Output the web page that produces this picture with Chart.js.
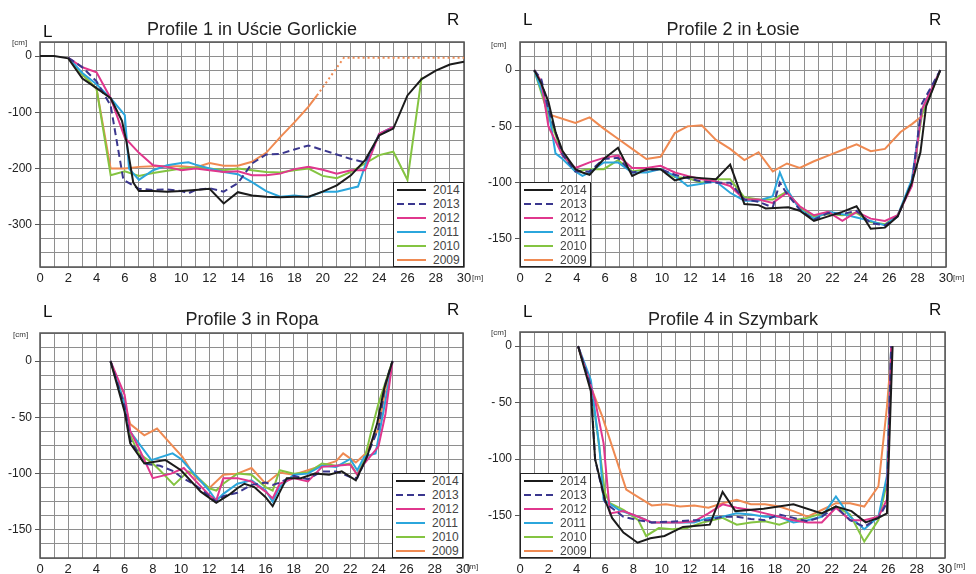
<!DOCTYPE html>
<html>
<head>
<meta charset="utf-8">
<script src="https://cdn.jsdelivr.net/npm/chart.js@4.4.1/dist/chart.umd.min.js"></script>
<style>
  body { margin: 0; width: 976px; height: 574px; background: #fff; position: relative; overflow: hidden;
         font-family: "Liberation Sans", Arial, sans-serif; }
  canvas { position: absolute; }
  .title { position: absolute; font-size: 18px; line-height: 18px; color: #222; white-space: nowrap; transform: translateX(-50%); }
  .side { position: absolute; font-size: 17px; line-height: 17px; color: #111; }
  .unit { position: absolute; font-size: 8px; line-height: 8px; color: #333; }
  .legend { position: absolute; width: 71px; height: 85px; background: #fff; border: 1px solid #222; box-sizing: border-box; }
  .legend .swatch { position: absolute; left: 3px; width: 29px; height: 2px; }
  .legend .yr { position: absolute; left: 39px; font-size: 12px; line-height: 12px; color: #444; }
</style>
</head>
<body>
<script>
// Lata pomiarów (kolejność jak w legendzie)
const YEARS = ['2014', '2013', '2012', '2011', '2010', '2009'];
const COLORS = ['#1b1b1b', '#3a368e', '#e0378d', '#2ba6dc', '#84c441', '#ef8a52'];

// Profil 1 - Uście Gorlickie  [m, cm]
const p1_2014 = [[0,0],[1,0],[2,-4],[3,-40],[4,-57],[5,-75],[5.8,-115],[6.1,-150],[6.6,-225],[7,-240],[8,-240],[9,-241],[10,-240],[11,-238],[12,-236],[13,-262],[14,-242],[15,-248],[16,-250],[17,-251],[18,-250],[19,-250],[20,-241],[21,-230],[22,-212],[23,-185],[24,-141],[25,-129],[26,-70],[27,-41],[28,-26],[29,-15],[30,-10]];
const p1_2013 = [[2,-3],[3,-20],[4,-45],[5,-88],[5.9,-220],[7,-236],[8,-238],[9,-237],[10,-240],[10.5,-244],[11,-238],[12,-235],[13,-241],[14,-226],[15,-191],[16,-175],[17,-174],[18,-166],[19,-159],[20,-167],[21,-175],[22,-183],[23,-189],[24,-141],[25,-127]];
const p1_2012 = [[2,-3],[3,-20],[4,-29],[5,-75],[6,-145],[7,-172],[8,-194],[9,-197],[10,-203],[11,-200],[12,-203],[13,-206],[14,-205],[15,-212],[16,-212],[17,-209],[18,-201],[19,-197],[20,-202],[21,-209],[22,-203],[23,-203],[24,-138],[25,-126]];
const p1_2011 = [[2,-3],[3,-30],[4,-50],[5,-75],[6,-105],[6.3,-200],[7,-220],[8,-203],[9,-194],[10,-190],[10.5,-189],[11,-193],[12,-200],[13,-206],[14,-210],[15,-224],[16,-240],[17,-250],[18,-248],[19,-251],[20,-241],[21,-241],[22,-235],[22.5,-232],[23,-195],[24,-138],[25,-126]];
const p1_2010 = [[2,-3],[3,-33],[4,-58],[5,-212],[6,-205],[7,-213],[8,-208],[9,-204],[10,-200],[11,-198],[12,-200],[13,-203],[14,-200],[15,-203],[16,-206],[17,-207],[18,-203],[19,-200],[20,-213],[21,-217],[22,-206],[23,-191],[24,-176],[25,-170],[26,-220],[27,-38]];
const p1_2009 = [[2,-3],[3,-33],[4,-58],[5,-200],[6,-200],[7,-197],[8,-196],[9,-196],[10,-196],[11,-198],[12,-190],[13,-195],[14,-195],[15,-188],[16,-172],[17,-144],[18,-118],[19,-90],[19.6,-70],[21.5,-3],[30,-3]];

// Profil 2 - Łosie
const p2_2014 = [[1,0],[1.5,-12],[2,-28],[2.5,-55],[3,-72],[3.9,-88],[4.4,-91],[4.9,-93],[5.9,-79],[6.9,-69],[7.9,-94],[8.9,-88],[9.9,-88],[10.9,-98],[11.8,-95],[12.8,-96],[13.8,-97],[14.8,-84],[15.8,-119],[16.8,-120],[17.3,-123],[18.9,-122],[19.7,-125],[20.7,-134],[21.7,-130],[22.7,-126],[23.7,-121],[24.7,-141],[25.7,-140],[26.6,-130],[27.6,-100],[28.2,-73],[28.6,-32],[29.6,0]];
const p2_2013 = [[1,0],[1.5,-8],[2,-35],[3,-75],[3.9,-90],[4.9,-90],[5.9,-79],[6.9,-78],[7.9,-91],[8.9,-89],[9.9,-88],[10.9,-93],[11.8,-96],[12.8,-99],[13.8,-100],[14.8,-100],[15.8,-115],[16.8,-117],[17.8,-122],[18.3,-100],[18.8,-110],[19.7,-124],[20.7,-133],[21.7,-127],[22.7,-128],[23.7,-125],[24.7,-136],[25.7,-138],[26.6,-130],[27.6,-100],[28.3,-30],[29.6,0]];
const p2_2012 = [[1,0],[1.5,-10],[2,-50],[3,-76],[3.9,-87],[4.9,-82],[5.9,-78],[6.9,-76],[7.9,-87],[8.9,-87],[9.9,-85],[10.9,-91],[11.8,-94],[12.8,-97],[13.8,-99],[14.8,-103],[15.8,-115],[16.8,-115],[17.8,-118],[18.8,-109],[19.7,-121],[20.7,-129],[21.7,-126],[22.7,-134],[23.7,-126],[24.7,-132],[25.7,-134],[26.6,-129],[27.6,-103],[28.3,-35],[29.6,0]];
const p2_2011 = [[1,0],[2,-35],[2.5,-74],[3,-79],[3.9,-90],[4.4,-94],[4.9,-91],[5.9,-82],[6.9,-82],[7.9,-91],[8.9,-91],[9.9,-88],[10.9,-94],[11.8,-103],[12.8,-101],[13.8,-99],[14.8,-109],[15.8,-116],[16.8,-116],[17.8,-112],[18.3,-91],[18.8,-106],[19.7,-124],[20.7,-132],[21.7,-126],[22.7,-128],[23.7,-131],[24.7,-134],[25.7,-138],[26.6,-129],[27.6,-97],[28.3,-35],[29.6,0]];
const p2_2010 = [[1,0],[2,-40],[3,-75],[3.9,-90],[4.9,-88],[5.9,-88],[6.9,-80],[7.9,-90],[8.9,-88],[9.9,-88],[10.9,-95],[11.8,-96],[12.8,-100],[13.8,-97],[14.8,-97],[15.8,-113],[16.8,-115],[17.8,-115],[18.8,-108],[19.7,-122],[20.7,-130],[21.7,-128],[22.7,-129],[23.7,-127],[24.7,-135],[25.7,-137],[26.6,-129],[27.6,-100],[28.3,-40],[29.6,0]];
const p2_2009 = [[1,0],[2.2,-40],[3.9,-47],[4.9,-42],[5.9,-52],[6.9,-61],[7.9,-70],[8.9,-79],[9.9,-77],[10.9,-56],[11.8,-50],[12.8,-49],[13.8,-62],[14.8,-70],[15.8,-80],[16.8,-73],[17.8,-90],[18.8,-83],[19.7,-87],[20.7,-81],[21.7,-76],[22.7,-71],[23.7,-66],[24.7,-72],[25.7,-70],[26.8,-55],[27.6,-48],[28.4,-40]];

// Profil 3 - Ropa
const p3_2014 = [[5,0],[6,-45],[6.4,-73],[7.4,-91],[8.9,-88],[10,-97],[11.4,-116],[12.5,-126],[13.5,-118],[14,-113],[14.5,-109],[15.2,-112],[16,-121],[16.5,-129],[17.5,-104],[18.5,-104],[19.5,-100],[20.5,-101],[21.4,-98],[22.4,-106],[23.2,-85],[23.9,-56],[24.4,-25],[25,0]];
const p3_2013 = [[5,0],[6,-40],[6.4,-70],[7.4,-91],[8.5,-93],[9.5,-98],[10,-103],[11,-110],[12,-120],[12.5,-125],[13,-120],[14,-117],[15,-110],[16,-108],[16.5,-110],[17,-108],[18,-102],[19,-105],[20,-98],[21,-98],[22,-103],[22.5,-104],[23,-90],[24,-60],[24.5,-20],[25,0]];
const p3_2012 = [[5,0],[6,-30],[6.4,-62],[7,-77],[8,-104],[9.3,-100],[10.2,-95],[11,-106],[12,-119],[12.5,-124],[13,-104],[14,-104],[15,-107],[16,-116],[16.5,-122],[17,-109],[18,-104],[19,-107],[20,-94],[21,-93],[22,-92],[22.5,-101],[23,-91],[24,-76],[24.5,-47],[25,0]];
const p3_2011 = [[5,0],[6,-38],[6.35,-62],[7.9,-88],[9.4,-82],[10,-87],[11,-101],[12,-115],[12.5,-124],[13,-118],[14,-109],[15,-106],[16,-115],[16.5,-125],[17,-112],[18,-101],[19,-100],[20,-93],[21,-94],[22,-87],[22.5,-97],[23,-85],[23.8,-82],[24.5,-35],[25,0]];
const p3_2010 = [[5,0],[6,-38],[6.4,-66],[7,-82],[8,-91],[8.5,-97],[9.5,-110],[10.5,-98],[11,-101],[12,-113],[12.5,-115],[13,-109],[14,-100],[15,-101],[16,-112],[16.5,-115],[17,-97],[18,-100],[19,-99],[20,-91],[21,-93],[22,-91],[22.5,-101],[23,-88],[23.5,-62],[24,-38],[25,0]];
const p3_2009 = [[5,0],[6,-38],[6.4,-56],[7.4,-66],[8.3,-60],[9.3,-74],[10.1,-85],[11,-103],[12,-113],[13,-101],[14,-100],[15,-95],[16,-109],[17,-99],[18,-101],[19,-97],[20,-93],[21,-89],[21.5,-82],[22.4,-90],[23.1,-82],[24,-60],[24.5,-25],[25,0]];

// Profil 4 - Szymbark
const p4_2014 = [[4.1,0],[5,-40],[5.3,-100],[6,-136],[6.5,-152],[7.3,-165],[8.3,-174],[9.2,-170],[10.2,-168],[11.5,-160],[13.4,-158],[14.3,-129],[15.2,-146],[17.2,-144],[19.3,-140],[21.3,-148],[22.3,-142],[23.4,-146],[24.4,-156],[25.3,-152],[25.9,-148],[26.3,0]];
const p4_2013 = [[4.1,0],[5,-35],[5.3,-100],[6,-138],[6.35,-142],[7.3,-151],[8.35,-154],[9.3,-156],[11.3,-155],[12.3,-154],[13.3,-154],[14.3,-151],[15.3,-151],[16.3,-153],[17.3,-154],[18.3,-149],[19.3,-152],[20.3,-155],[21.3,-151],[22.3,-142],[23.3,-154],[24.3,-160],[25.3,-152],[25.9,-139],[26.2,0]];
const p4_2012 = [[4.1,0],[5,-35],[5.3,-48],[5.9,-86],[6.35,-148],[7.3,-146],[8.35,-151],[9.3,-156],[10.3,-156],[11.3,-156],[12.3,-155],[13.3,-148],[14.3,-140],[15.3,-143],[16.3,-145],[17.3,-148],[18.3,-151],[19.3,-154],[20.3,-156],[21.3,-156],[22.3,-143],[23.3,-154],[24.3,-154],[25.3,-151],[25.9,-136],[26.2,0]];
const p4_2011 = [[4.1,0],[5,-30],[5.6,-89],[5.9,-136],[7,-145],[8.35,-151],[9.3,-156],[10.3,-156],[11.3,-156],[12.3,-156],[13.3,-152],[14.3,-151],[15.3,-148],[16.3,-149],[17.3,-151],[18.3,-151],[19.3,-156],[20.3,-154],[21.3,-151],[22.3,-133],[23.3,-151],[24.3,-162],[25.3,-151],[25.9,-115],[26.2,0]];
const p4_2010 = [[4.1,0],[5,-35],[5.5,-80],[6,-130],[6.35,-139],[7.3,-145],[8.35,-154],[8.9,-168],[9.8,-161],[10.75,-162],[11.8,-161],[12.9,-156],[14.3,-152],[15.3,-158],[16.3,-156],[17.3,-155],[18.3,-158],[19.3,-154],[20.3,-152],[21.3,-148],[22.3,-142],[23.3,-149],[24.3,-173],[25.3,-154],[25.9,-121],[26.2,0]];
const p4_2009 = [[4.1,0],[5,-36],[5.8,-62],[7.5,-127],[8.4,-134],[9.3,-141],[10.3,-140],[11.3,-142],[12.3,-141],[13.3,-143],[14.3,-139],[15.3,-136],[16.3,-140],[17.3,-140],[18.3,-142],[19.3,-146],[20.3,-151],[21.3,-145],[22.3,-139],[23.3,-139],[24.3,-142],[25.3,-124],[25.9,-54],[26.2,-8]];

// Etykiety osi
const X_TICKS = [0, 2, 4, 6, 8, 10, 12, 14, 16, 18, 20, 22, 24, 26, 28, 30];
const Y_TICKS_1 = { '0': '0', '-100': '-100', '-200': '-200', '-300': '-300' };
const Y_TICKS_2 = { '0': '0', '-50': '- 50', '-100': '-100', '-150': '-150' };

const GRID_COLOR = '#8e8e8e';
const FRAME_COLOR = '#555';
const TICK_FONT = { family: '"Liberation Sans", Arial, sans-serif', size: 12 };

// Ramka wokół obszaru wykresu
const framePlugin = {
    id: 'frame',
    beforeDatasetsDraw(chart) {
        const a = chart.chartArea;
        const ctx = chart.ctx;
        ctx.save();
        ctx.strokeStyle = FRAME_COLOR;
        ctx.lineWidth = 1.5;
        ctx.strokeRect(a.left, a.top, a.right - a.left, a.bottom - a.top);
        ctx.restore();
    }
};

function addText(cls, text, x, y) {
    const el = document.createElement('div');
    el.className = cls;
    el.textContent = text;
    el.style.left = x + 'px';
    el.style.top = y + 'px';
    document.body.appendChild(el);
}

function addLegend(x, y) {
    const box = document.createElement('div');
    box.className = 'legend';
    box.style.left = x + 'px';
    box.style.top = y + 'px';
    YEARS.forEach((yr, i) => {
        const sw = document.createElement('div');
        sw.className = 'swatch';
        sw.style.top = (6 + i * 14) + 'px';
        if (i === 1) {
            sw.style.background = `repeating-linear-gradient(to right, ${COLORS[i]} 0 7px, transparent 7px 11px)`;
        } else {
            sw.style.background = COLORS[i];
        }
        box.appendChild(sw);
        const t = document.createElement('div');
        t.className = 'yr';
        t.textContent = yr;
        t.style.top = (1 + i * 14) + 'px';
        box.appendChild(t);
    });
    document.body.appendChild(box);
}

/**
 * Rysuje jeden profil poprzeczny
 */
function buildPanel(cfg) {
    const canvas = document.createElement('canvas');
    canvas.width = cfg.w;
    canvas.height = cfg.h;
    canvas.style.left = cfg.left + 'px';
    canvas.style.top = cfg.top + 'px';
    document.body.appendChild(canvas);

    const datasets = cfg.series.map((pts, i) => {
        const ds = {
            label: YEARS[i],
            data: pts.map(p => ({ x: p[0], y: p[1] })),
            borderColor: COLORS[i],
            borderWidth: 2,
            borderDash: i === 1 ? [7, 4] : [],
            pointRadius: 0,
            tension: 0,
            fill: false
        };
        if (cfg.dottedFrom !== undefined && i === 5) {
            ds.segment = {
                borderDash: c => c.p0.parsed.x >= cfg.dottedFrom ? [2, 3] : undefined
            };
        }
        return ds;
    });

    const yLabels = cfg.yLabels;
    new Chart(canvas, {
        type: 'line',
        data: { datasets },
        options: {
            responsive: false,
            animation: false,
            events: [],
            layout: { padding: { left: 0, top: cfg.areaTop, right: cfg.w - cfg.areaRight, bottom: 0 } },
            plugins: { legend: { display: false }, tooltip: { enabled: false } },
            scales: {
                x: {
                    type: 'linear',
                    min: 0,
                    max: 30,
                    ticks: {
                        stepSize: 1,
                        autoSkip: false,
                        maxRotation: 0,
                        padding: 4,
                        color: '#222',
                        font: { family: TICK_FONT.family, size: 13 },
                        callback: v => X_TICKS.includes(v) ? String(v) : ''
                    },
                    grid: { color: GRID_COLOR, lineWidth: 1, drawTicks: false },
                    border: { display: false },
                    afterFit: s => { s.height = cfg.h - cfg.areaBottom; }
                },
                y: {
                    min: cfg.yMin,
                    max: cfg.yMax,
                    ticks: {
                        stepSize: cfg.yStep,
                        autoSkip: false,
                        padding: 3,
                        color: '#222',
                        font: TICK_FONT,
                        callback: v => yLabels[String(v)] || ''
                    },
                    grid: {
                        color: GRID_COLOR,
                        lineWidth: 1,
                        tickLength: 5,
                        tickColor: c => (c.tick && yLabels[String(c.tick.value)]) ? '#555' : 'rgba(0,0,0,0)'
                    },
                    border: { display: false },
                    afterFit: s => { s.width = cfg.areaLeft; }
                }
            }
        },
        plugins: [framePlugin]
    });
}

// Profil 1
buildPanel({ left: 0, top: 0, w: 488, h: 290, areaLeft: 40, areaRight: 464, areaTop: 42, areaBottom: 267,
    yMin: -375, yMax: 25, yStep: 25, yLabels: Y_TICKS_1, dottedFrom: 19.5,
    series: [p1_2014, p1_2013, p1_2012, p1_2011, p1_2010, p1_2009] });
// Profil 2
buildPanel({ left: 488, top: 0, w: 488, h: 290, areaLeft: 32, areaRight: 458, areaTop: 42, areaBottom: 267,
    yMin: -175, yMax: 25, yStep: 12.5, yLabels: Y_TICKS_2,
    series: [p2_2014, p2_2013, p2_2012, p2_2011, p2_2010, p2_2009] });
// Profil 3
buildPanel({ left: 0, top: 290, w: 488, h: 284, areaLeft: 40, areaRight: 463, areaTop: 43, areaBottom: 268,
    yMin: -175, yMax: 25, yStep: 12.5, yLabels: Y_TICKS_2,
    series: [p3_2014, p3_2013, p3_2012, p3_2011, p3_2010, p3_2009] });
// Profil 4
buildPanel({ left: 488, top: 290, w: 488, h: 284, areaLeft: 32, areaRight: 457, areaTop: 42, areaBottom: 268,
    yMin: -187.5, yMax: 12.5, yStep: 12.5, yLabels: Y_TICKS_2,
    series: [p4_2014, p4_2013, p4_2012, p4_2011, p4_2010, p4_2009] });

// Tytuły, oznaczenia brzegów i jednostki
addText('title', 'Profile 1 in Uście Gorlickie', 252, 20);
addText('title', 'Profile 2 in Łosie', 733, 20);
addText('title', 'Profile 3 in Ropa', 252, 310);
addText('title', 'Profile 4 in Szymbark', 733, 310);

addText('side', 'L', 43, 23);   addText('side', 'R', 447, 11);
addText('side', 'L', 523, 11);  addText('side', 'R', 929, 11);
addText('side', 'L', 43, 303);  addText('side', 'R', 447, 301);
addText('side', 'L', 523, 303); addText('side', 'R', 929, 301);

addText('unit', '[cm]', 12, 39);  addText('unit', '[m]', 472, 274);
addText('unit', '[cm]', 491, 41); addText('unit', '[m]', 953, 274);
addText('unit', '[cm]', 13, 331); addText('unit', '[m]', 467, 563);
addText('unit', '[cm]', 491, 329); addText('unit', '[m]', 954, 562);

addLegend(393, 182);
addLegend(520, 182);
addLegend(392, 473);
addLegend(520, 473);
</script>
</body>
</html>
